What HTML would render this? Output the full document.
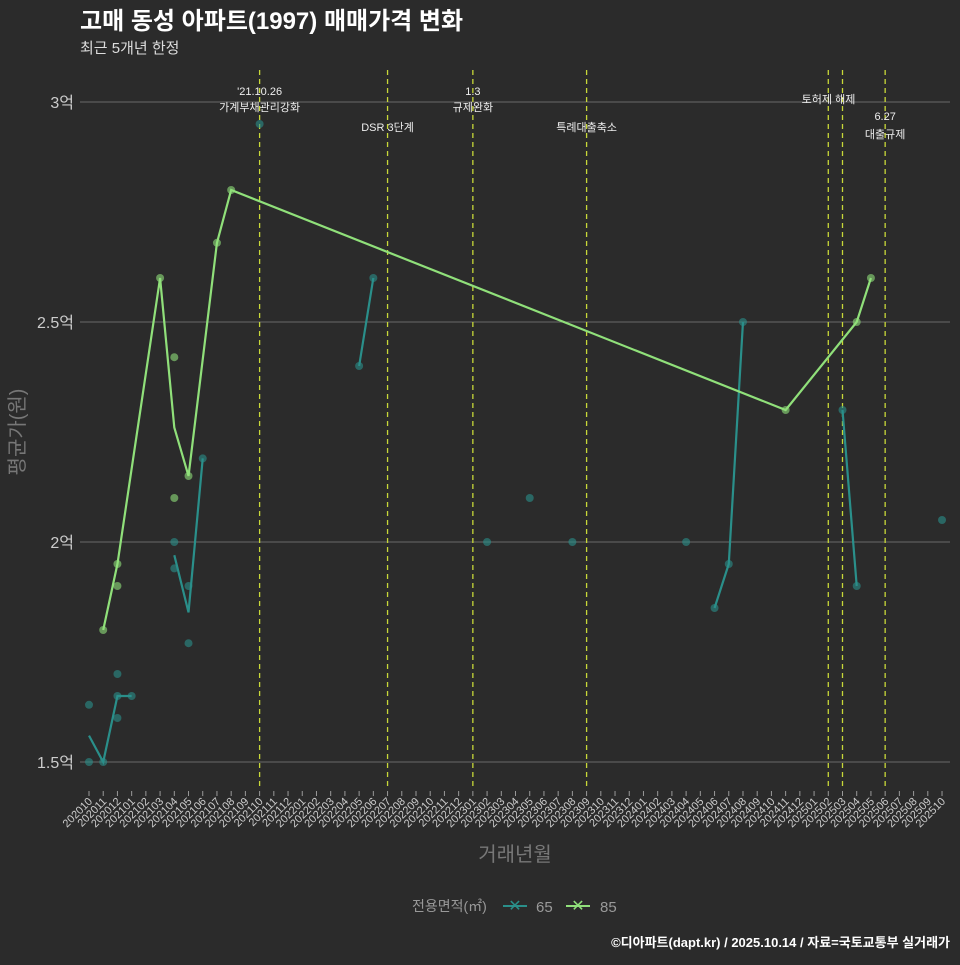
<!DOCTYPE html>
<html><head><meta charset="utf-8">
<style>
body{margin:0;background:#2b2b2b;font-family:"Liberation Sans","Noto Sans CJK KR",sans-serif;}
svg text{font-family:"Liberation Sans","Noto Sans CJK KR",sans-serif;}
</style></head>
<body>
<svg id="c" width="960" height="960" xmlns="http://www.w3.org/2000/svg">
<rect width="960" height="960" fill="#2b2b2b"/>
<text x="80" y="29" fill="#fff" font-size="24" font-weight="bold">고매 동성 아파트(1997) 매매가격 변화</text>
<text x="80" y="53" fill="#ddd" font-size="15">최근 5개년 한정</text>
<g id="grid"></g><g id="vlines"></g><g id="marks"></g><g id="xt"></g>
<text transform="translate(24,432) rotate(-90)" text-anchor="middle" fill="#777" font-size="20">평균가(원)</text>
<text x="515" y="861" text-anchor="middle" fill="#777" font-size="20">거래년월</text>
<g>
<text x="412" y="911" fill="#999" font-size="14">전용면적(㎡)</text>
<g><line x1="503" y1="906" x2="527" y2="906" stroke="#2a8f8a" stroke-width="2"/><text x="515" y="911" text-anchor="middle" fill="#2a8f8a" font-size="16">✕</text><text x="536" y="912" fill="#999" font-size="15">65</text></g>
<g><line x1="566" y1="906" x2="590" y2="906" stroke="#90e07a" stroke-width="2"/><text x="578" y="911" text-anchor="middle" fill="#90e07a" font-size="16">✕</text><text x="600" y="912" fill="#999" font-size="15">85</text></g>
</g>
<text x="950" y="947" text-anchor="end" fill="#fff" font-size="13" font-weight="bold">©디아파트(dapt.kr) / 2025.10.14 / 자료=국토교통부 실거래가</text>
</svg>
<script>
const yTicks=[1.5,2,2.5,3];
const yTickLabels=["1.5억","2억","2.5억","3억"];
const line85=[[1,1.80],[2,1.95],[5,2.60],[6,2.26],[7,2.15],[9,2.68],[10,2.80],[49,2.30],[54,2.50],[55,2.60]];
const dots85=[[1,1.80],[2,1.95],[2,1.90],[5,2.60],[6,2.42],[6,2.10],[7,2.15],[9,2.68],[10,2.80],[49,2.30],[54,2.50],[55,2.60]];
const segs65=[[[0,1.56],[1,1.50],[2,1.65],[3,1.65]],[[6,1.97],[7,1.84],[8,2.19]],[[19,2.40],[20,2.60]],[[44,1.85],[45,1.95],[46,2.50]],[[53,2.30],[54,1.90]]];
const dots65=[[0,1.50],[0,1.63],[1,1.50],[2,1.70],[2,1.65],[2,1.60],[3,1.65],[6,2.00],[6,1.94],[7,1.90],[7,1.77],[8,2.19],[12,2.95],[19,2.40],[20,2.60],[28,2.00],[31,2.10],[34,2.00],[42,2.00],[44,1.85],[45,1.95],[46,2.50],[53,2.30],[54,1.90],[60,2.05]];
const events=[{m:12,t1:"'21.10.26",t2:"가계부채관리강화",row:0},{m:21,t1:"",t2:"DSR 3단계",row:1},{m:27,t1:"1.3",t2:"규제완화",row:0},{m:35,t1:"",t2:"특례대출축소",row:1},{m:52,t1:"",t2:"",row:0},{m:53,t1:"",t2:"토허제 해제",row:2},{m:56,t1:"6.27",t2:"대출규제",row:3}];
const NS="http://www.w3.org/2000/svg";
const x=i=>89+i*14.217, y=v=>102+(3-v)*440;
function mk(t,a,p){const e=document.createElementNS(NS,t);for(const k in a)e.setAttribute(k,a[k]);document.getElementById(p).appendChild(e);return e;}
yTicks.forEach((v,i)=>{
 const l=mk('line',{x1:80,x2:950,y1:y(v),y2:y(v),stroke:'#6a6a6a','stroke-width':1},'grid');
 
 
 const t=mk('text',{x:74,y:y(v)+6,'text-anchor':'end',fill:'#ccc','font-size':16},'grid');
 t.textContent=yTickLabels[i];
 
 
});
for(let i=0;i<=60;i++){
 const yy=2020+Math.floor((9+i)/12), mm=(9+i)%12+1;
 const lab=yy+String(mm).padStart(2,'0');
 mk('line',{x1:x(i),x2:x(i),y1:791,y2:796,stroke:'#999'},'xt');
 const t=mk('text',{transform:`translate(${x(i)+4},${802}) rotate(-45)`,'text-anchor':'end',fill:'#ccc','font-size':11},'xt');
 t.textContent=lab;
 
 
}
const rowY=[[95,111],[0,131],[0,103],[120,138]];
events.forEach(e=>{
 const l=mk('line',{x1:x(e.m),x2:x(e.m),y1:70,y2:790,stroke:'#c8d838','stroke-width':1.3,'stroke-dasharray':'5,4'},'vlines');
 
 
 const r=rowY[e.row];
 if(e.t1){const t=mk('text',{x:x(e.m),y:r[0],'text-anchor':'middle',fill:'#eee','font-size':11},'vlines');t.textContent=e.t1;}
 if(e.t2){const t=mk('text',{x:x(e.m)-(e.row==2?14:0),y:r[1],'text-anchor':'middle',fill:'#eee','font-size':11},'vlines');t.textContent=e.t2;}
});
dots65.forEach(d=>{const c=mk('circle',{cx:x(d[0]),cy:y(d[1]),r:4,fill:'#2a8f8a','fill-opacity':0.6},'marks');});
dots85.forEach(d=>{const c=mk('circle',{cx:x(d[0]),cy:y(d[1]),r:4,fill:'#90e07a','fill-opacity':0.6},'marks');});
segs65.forEach(s=>{const p=mk('polyline',{points:s.map(d=>x(d[0])+','+y(d[1])).join(' '),fill:'none',stroke:'#2a8f8a','stroke-width':2.2},'marks');});
const p=mk('polyline',{points:line85.map(d=>x(d[0])+','+y(d[1])).join(' '),fill:'none',stroke:'#90e07a','stroke-width':2.2},'marks');


</script>
</body></html>
